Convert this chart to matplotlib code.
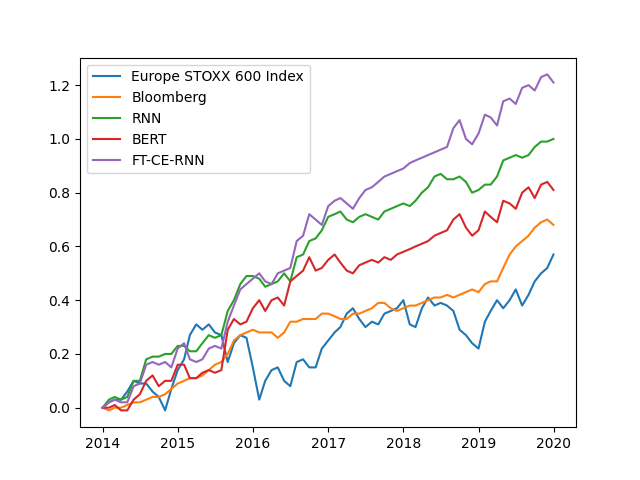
import matplotlib
matplotlib.use("Agg")
import matplotlib.pyplot as plt
import pandas as pd

# month starts 2014-01 .. 2019-12, plus last trading day of 2019
dates = pd.date_range("2014-01-01", "2019-12-01", freq="MS").append(pd.DatetimeIndex(["2019-12-31"]))

stoxx = [0.00, 0.02, 0.03, 0.03, 0.06, 0.10, 0.09, 0.09, 0.06, 0.04, -0.01, 0.07,
         0.14, 0.18, 0.27, 0.31, 0.29, 0.31, 0.28, 0.27, 0.17, 0.24, 0.27, 0.26,
         0.15, 0.03, 0.10, 0.14, 0.15, 0.10, 0.08, 0.17, 0.18, 0.15, 0.15, 0.22,
         0.25, 0.28, 0.30, 0.35, 0.37, 0.33, 0.30, 0.32, 0.31, 0.35, 0.36, 0.37,
         0.40, 0.31, 0.30, 0.37, 0.41, 0.38, 0.39, 0.38, 0.36, 0.29, 0.27, 0.24,
         0.22, 0.32, 0.36, 0.40, 0.37, 0.40, 0.44, 0.38, 0.42, 0.47, 0.50, 0.52, 0.57]
bloomberg = [0.00, -0.01, 0.00, 0.00, 0.01, 0.02, 0.02, 0.03, 0.04, 0.04, 0.05, 0.07,
             0.09, 0.10, 0.11, 0.11, 0.12, 0.14, 0.16, 0.17, 0.20, 0.25, 0.27, 0.28,
             0.29, 0.28, 0.28, 0.28, 0.26, 0.28, 0.32, 0.32, 0.33, 0.33, 0.33, 0.35,
             0.35, 0.34, 0.33, 0.33, 0.35, 0.35, 0.36, 0.37, 0.39, 0.39, 0.37, 0.36,
             0.37, 0.38, 0.38, 0.39, 0.40, 0.41, 0.41, 0.42, 0.41, 0.42, 0.43, 0.44,
             0.43, 0.46, 0.47, 0.47, 0.52, 0.57, 0.60, 0.62, 0.64, 0.67, 0.69, 0.70, 0.68]
rnn = [0.00, 0.03, 0.04, 0.03, 0.04, 0.10, 0.10, 0.18, 0.19, 0.19, 0.20, 0.20,
       0.23, 0.23, 0.21, 0.21, 0.24, 0.27, 0.26, 0.27, 0.36, 0.40, 0.46, 0.49,
       0.49, 0.48, 0.45, 0.46, 0.47, 0.50, 0.47, 0.56, 0.57, 0.62, 0.63, 0.66,
       0.71, 0.72, 0.73, 0.70, 0.69, 0.71, 0.72, 0.71, 0.70, 0.73, 0.74, 0.75,
       0.76, 0.75, 0.77, 0.80, 0.82, 0.86, 0.87, 0.85, 0.85, 0.86, 0.84, 0.80,
       0.81, 0.83, 0.83, 0.86, 0.92, 0.93, 0.94, 0.93, 0.94, 0.97, 0.99, 0.99, 1.00]
bert = [0.00, 0.00, 0.01, -0.01, -0.01, 0.03, 0.05, 0.10, 0.12, 0.08, 0.10, 0.10,
        0.16, 0.16, 0.11, 0.11, 0.13, 0.14, 0.13, 0.14, 0.29, 0.33, 0.31, 0.32,
        0.37, 0.40, 0.36, 0.40, 0.41, 0.38, 0.47, 0.49, 0.51, 0.56, 0.51, 0.52,
        0.55, 0.57, 0.54, 0.51, 0.50, 0.53, 0.54, 0.55, 0.54, 0.56, 0.55, 0.57,
        0.58, 0.59, 0.60, 0.61, 0.62, 0.64, 0.65, 0.66, 0.70, 0.72, 0.67, 0.64,
        0.66, 0.73, 0.71, 0.69, 0.77, 0.76, 0.74, 0.80, 0.82, 0.78, 0.83, 0.84, 0.81]
ft_ce_rnn = [0.00, 0.02, 0.03, 0.02, 0.02, 0.08, 0.09, 0.16, 0.17, 0.16, 0.17, 0.15,
             0.22, 0.24, 0.18, 0.17, 0.18, 0.22, 0.23, 0.22, 0.32, 0.38, 0.44, 0.46,
             0.48, 0.50, 0.47, 0.46, 0.50, 0.51, 0.52, 0.62, 0.64, 0.72, 0.70, 0.68,
             0.75, 0.77, 0.78, 0.76, 0.74, 0.78, 0.81, 0.82, 0.84, 0.86, 0.87, 0.88,
             0.89, 0.91, 0.92, 0.93, 0.94, 0.95, 0.96, 0.97, 1.04, 1.07, 1.00, 0.98,
             1.02, 1.09, 1.08, 1.05, 1.14, 1.15, 1.13, 1.19, 1.20, 1.18, 1.23, 1.24, 1.21]

fig, ax = plt.subplots(figsize=(6.4, 4.8), dpi=100)
ax.plot(dates, stoxx, label="Europe STOXX 600 Index")
ax.plot(dates, bloomberg, label="Bloomberg")
ax.plot(dates, rnn, label="RNN")
ax.plot(dates, bert, label="BERT")
ax.plot(dates, ft_ce_rnn, label="FT-CE-RNN")
ax.legend(loc="upper left")
fig.savefig("out.png")
